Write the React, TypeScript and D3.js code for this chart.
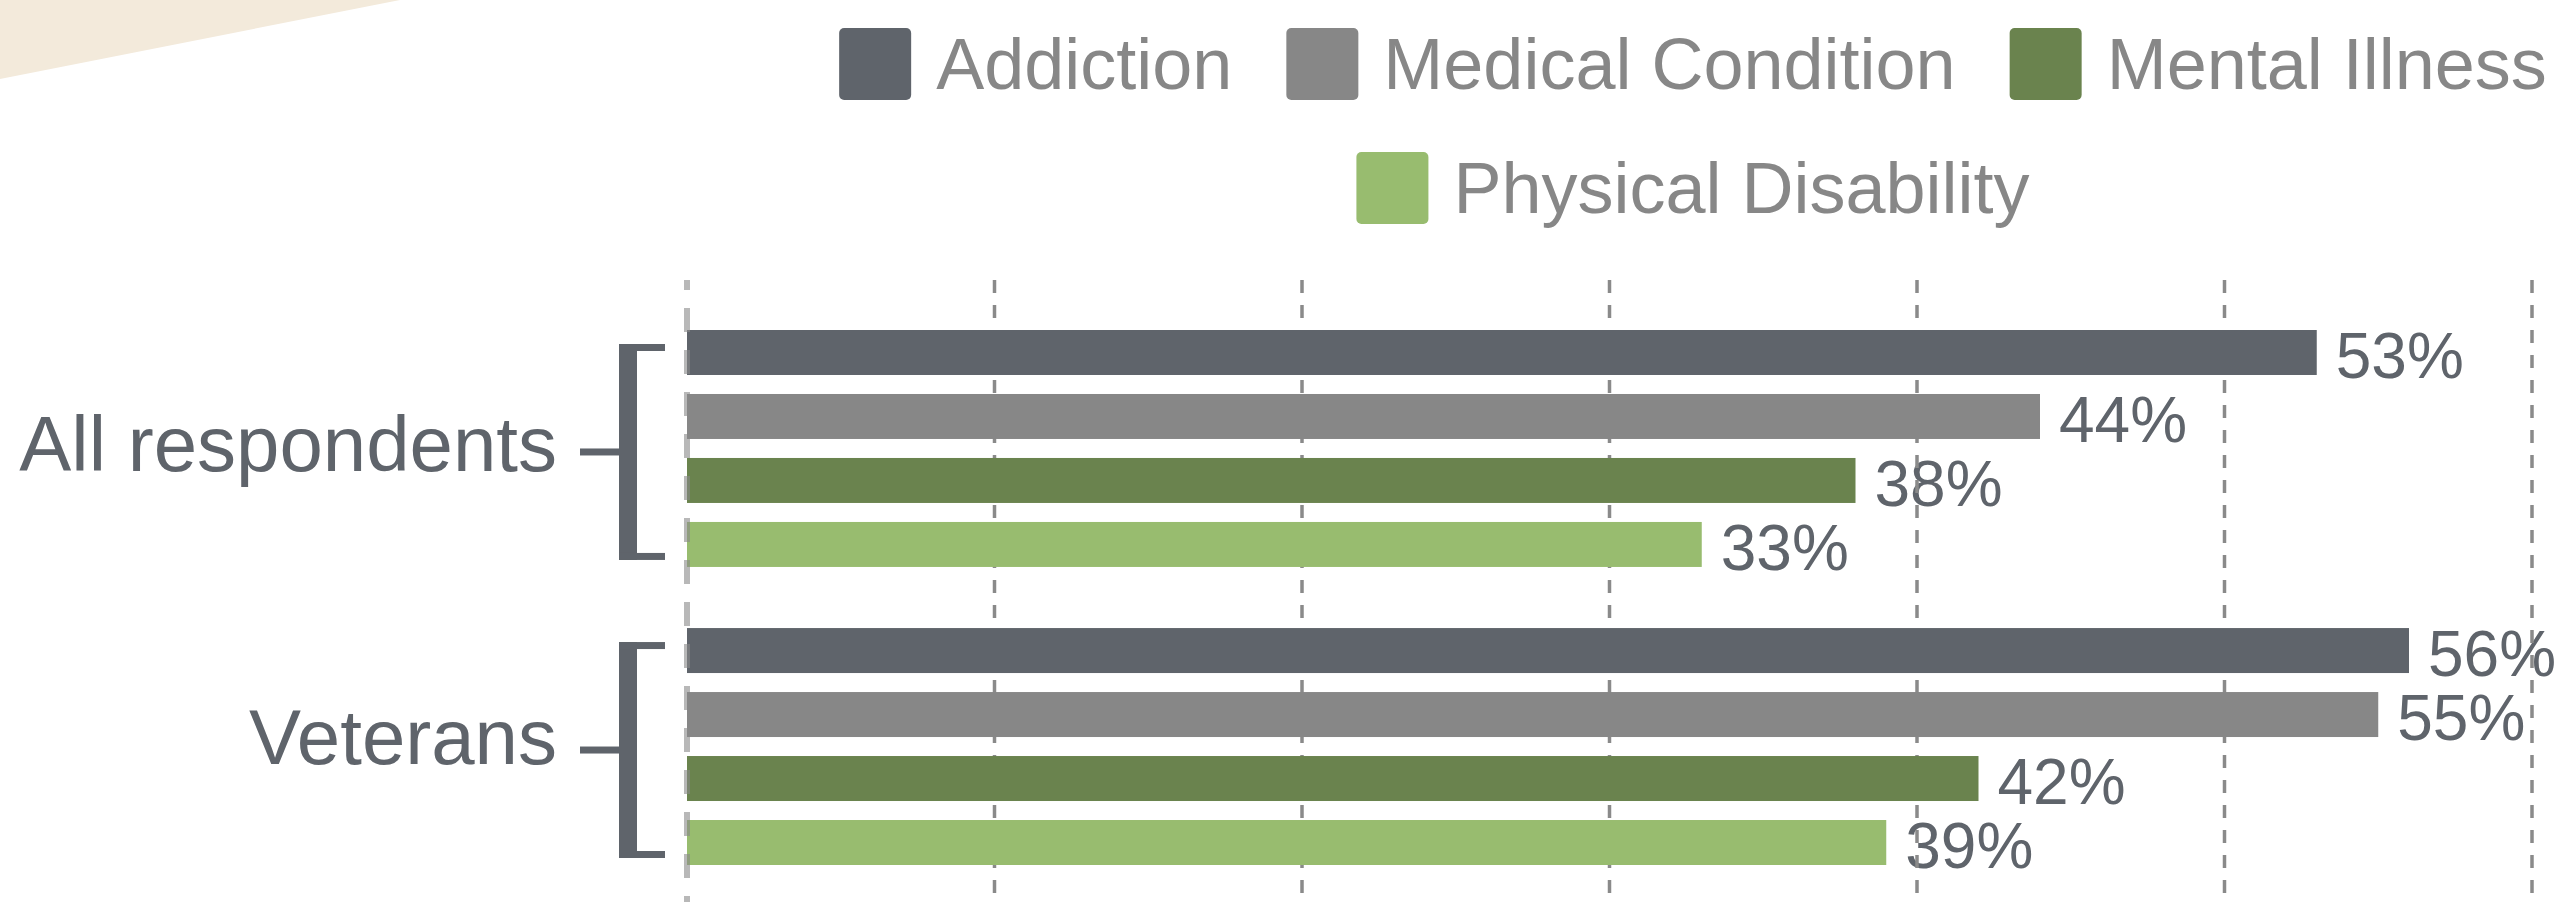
import * as d3 from "d3";
import { useMemo } from "react";

const GROUPS = ["All respondents", "Veterans"];
const SERIES = ["Addiction", "Medical Condition", "Mental Illness", "Physical Disability"];
const ALL_VALUES = [53, 44, 38, 33];
const VETERAN_VALUES = [56, 55, 42, 39];
const COLORS = ["#5f646b", "#878787", "#6a834e", "#98bc6f"];
const TICKS = [0, 10, 20, 30, 40, 50, 60];
const LEGEND_ROWS = [[0, 1, 2], [3]];

const W = 2559;
const H = 902;
const FONT = '"Liberation Sans", Arial, Helvetica, sans-serif';
const DARK = "#5f646b";

function measure(text: string, size: number) {
  const ctx = document.createElement("canvas").getContext("2d");
  if (!ctx) return text.length * size * 0.5;
  ctx.font = `${size}px "Liberation Sans"`;
  return ctx.measureText(text).width;
}

export default function App() {
  // layout config
  const plot = { left: 687, right: 2532, top: 330, bottom: 865, gridTop: 280 };
  const legend = { cx: 1693, sw: 72, gap: 25, itemGap: 54, rowY: [28, 152], font: 72 };

  const x = d3.scaleLinear().domain([0, 60]).range([plot.left, plot.right]);
  const yGroup = d3.scaleBand().domain(GROUPS).range([plot.top, plot.bottom]).paddingInner(0.205);
  const ySeries = d3.scaleBand().domain(SERIES).range([0, yGroup.bandwidth()]).paddingInner(0.297);

  const values = [ALL_VALUES, VETERAN_VALUES];

  const legendItems = useMemo(() => {
    const items: { i: number; x: number; y: number }[] = [];
    LEGEND_ROWS.forEach((row, r) => {
      const widths = row.map((i) => legend.sw + legend.gap + measure(SERIES[i], legend.font));
      const total = d3.sum(widths) + legend.itemGap * (row.length - 1);
      let cur = legend.cx - total / 2;
      row.forEach((i, k) => {
        items.push({ i, x: cur, y: legend.rowY[r] });
        cur += widths[k] + legend.itemGap;
      });
    });
    return items;
  }, []);

  const bw = ySeries.bandwidth();

  return (
    <svg
      width={W}
      height={H}
      style={{ position: "absolute", left: 0, top: 0, display: "block", background: "#fff" }}
      fontFamily={FONT}
    >
      {/* beige banner corner */}
      <polygon points="0,0 400,0 0,79" fill="#f3eadb" />

      {/* Legend */}
      {legendItems.map((d) => (
        <g key={d.i} transform={`translate(${d.x},${d.y})`}>
          <rect width={legend.sw} height={legend.sw} rx={5} fill={COLORS[d.i]} />
          <text x={legend.sw + legend.gap} y={legend.sw / 2 + 25} fontSize={legend.font} fill="#878787">
            {SERIES[d.i]}
          </text>
        </g>
      ))}

      {/* value labels (under gridlines, like the original) */}
      {GROUPS.map((g, gi) =>
        SERIES.map((s, si) => {
          const v = values[gi][si];
          const yTop = (yGroup(g) ?? 0) + (ySeries(s) ?? 0);
          return (
            <text key={`${g}-${s}-lbl`} x={x(v) + 19} y={yTop + bw + 3} fontSize={64} fill={DARK}>
              {v}%
            </text>
          );
        })
      )}

      {/* gridlines */}
      {TICKS.filter((t) => t > 0).map((t) => (
        <line
          key={t}
          x1={x(t)}
          x2={x(t)}
          y1={plot.gridTop}
          y2={H}
          stroke="#8a8a8a"
          strokeWidth={3.5}
          strokeDasharray="13 12"
        />
      ))}

      {/* bars */}
      {GROUPS.map((g, gi) =>
        SERIES.map((s, si) => {
          const v = values[gi][si];
          const yTop = (yGroup(g) ?? 0) + (ySeries(s) ?? 0);
          return (
            <rect
              key={`${g}-${s}`}
              x={x(0)}
              y={yTop}
              width={x(v) - x(0)}
              height={bw}
              fill={COLORS[si]}
            />
          );
        })
      )}

      {/* zero line sits over the bars */}
      <line
        x1={x(0)}
        x2={x(0)}
        y1={plot.gridTop}
        y2={H}
        stroke="#898989"
        strokeOpacity={0.6}
        strokeWidth={6}
        strokeDasharray="24 18"
        strokeDashoffset={14}
      />

      {/* group brackets + labels */}
      {GROUPS.map((g, gi) => {
        const top = (yGroup(g) ?? 0) + 14;
        const bottom = (yGroup(g) ?? 0) + yGroup.bandwidth() - 7;
        const mid = (top + bottom) / 2;
        const bx = 619;
        return (
          <g key={g}>
            <rect x={bx} y={top} width={18} height={bottom - top} fill={DARK} />
            <rect x={bx} y={top} width={46} height={7} fill={DARK} />
            <rect x={bx} y={bottom - 7} width={46} height={7} fill={DARK} />
            <rect x={580} y={mid - 3.5} width={bx - 580} height={7} fill={DARK} />
            <text x={557} y={mid + (gi === 0 ? 19 : 14)} textAnchor="end" fontSize={78} fill={DARK}>
              {g}
            </text>
          </g>
        );
      })}
    </svg>
  );
}
